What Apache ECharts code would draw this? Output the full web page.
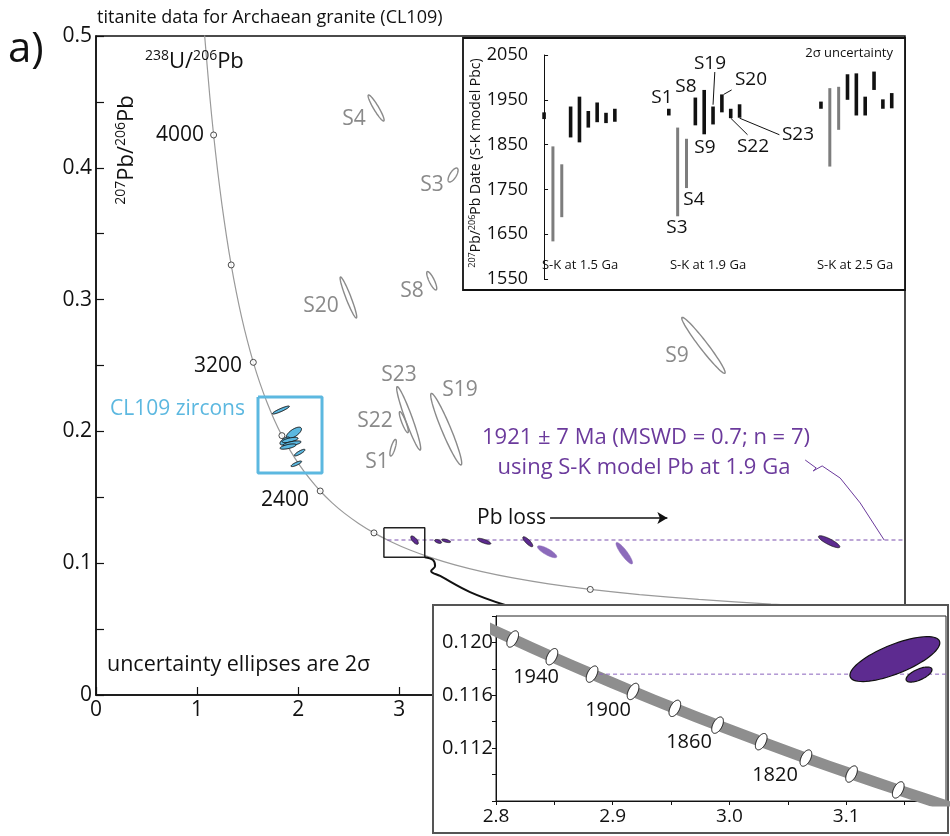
<!DOCTYPE html>
<html><head><meta charset="utf-8">
<script src="https://cdn.jsdelivr.net/npm/echarts@6/dist/echarts.min.js"></script>
<style>html,body{margin:0;padding:0;background:#fff}#c{width:950px;height:836px}</style>
</head><body><div id="c"></div>
<script>
// ---------------- DATA ----------------
// Tera-Wasserburg concordia (age Ma, 238U/206Pb, 207Pb/206Pb)
const concAge = [4250,4100,4000,3900,3800,3700,3600,3500,3400,3300,3200,3100,3000,2900,2800,2700,2600,2500,2400,2300,2200,2100,2000,1900,1800,1700,1600,1500,1400,1300,1200,1100,1000,900,800,700];
const concX = [1.0714,1.1249,1.1631,1.2030,1.2453,1.2898,1.3370,1.3869,1.4398,1.4959,1.5557,1.6194,1.6875,1.7603,1.8384,1.9224,2.0129,2.1108,2.2170,2.3325,2.4586,2.5968,2.7490,2.9174,3.1046,3.3139,3.5497,3.8170,4.1227,4.4756,4.8876,5.3746,5.9595,6.6743,7.5683,8.7184];
const concY = [0.5030,0.4545,0.4249,0.3976,0.3721,0.3484,0.3263,0.3058,0.2867,0.2690,0.2524,0.2370,0.2227,0.2093,0.1968,0.1852,0.1744,0.1643,0.1548,0.1460,0.1378,0.1302,0.1230,0.1163,0.1100,0.1042,0.0987,0.0936,0.0888,0.0843,0.0801,0.0762,0.0725,0.0690,0.0658,0.0628];
const concMarkerAges = [4000,3600,3200,2800,2400,2000,1200];
const concLabels = ['4000','3200','2400'];

// ellipses: [x, y, 2s_x, 2s_y, rho]
const greyNames = ['S4','S3','S8','S20','S23','S22','S19','S1','S9'];
const greyEll = [
  [2.770,0.4454,0.0791,0.00986,-0.93],
  [3.531,0.3945,0.0495,0.00531,0.68],
  [3.320,0.3143,0.0495,0.00698,-0.82],
  [2.496,0.3016,0.0821,0.01555,-0.946],
  [3.092,0.2099,0.1187,0.02405,-0.95],
  [3.044,0.2070,0.0445,0.00797,-0.875],
  [3.463,0.2017,0.1533,0.02716,-0.949],
  [2.938,0.1876,0.0317,0.00630,0.74],
  [6.007,0.2653,0.2146,0.02124,-0.972]
];
const zirconEll = [
  [1.828,0.2162,0.0841,0.00303,0.91],
  [1.957,0.1988,0.0750,0.00440,0.68],
  [1.869,0.1927,0.0495,0.00303,0.60],
  [1.919,0.1935,0.0791,0.00200,0.62],
  [1.939,0.1908,0.0890,0.00200,0.62],
  [1.899,0.1885,0.0791,0.00200,0.62],
  [2.014,0.1839,0.0524,0.00250,0.845],
  [1.981,0.1754,0.0524,0.00210,0.82]
];
const titaniteEll = [
  [3.150,0.1175,0.0376,0.00320,-0.70],
  [3.383,0.1165,0.0346,0.00150,-0.50],
  [3.462,0.1170,0.0445,0.00137,-0.60],
  [3.838,0.1166,0.0663,0.00228,-0.75],
  [4.270,0.1163,0.0495,0.00380,-0.82],
  [7.250,0.1163,0.1058,0.00455,-0.845]
];
const titaniteExcl = [
  [4.461,0.1087,0.0959,0.00455,-0.81],
  [5.224,0.1076,0.0821,0.00819,-0.89]
];
const anchorY = 0.1176;      // 207Pb/206Pb common-Pb anchor
const anchorX0 = 2.8823;     // concordia intercept

// zoomed inset
const zoomAge = [2000,1980,1960,1940,1920,1900,1880,1860,1840,1820,1800,1780,1760,1740];
const zoomX = [2.7490,2.7813,2.8143,2.8479,2.8823,2.9174,2.9532,2.9898,3.0272,3.0655,3.1046,3.1446,3.1855,3.2273];
const zoomY = [0.12299,0.12161,0.12026,0.11892,0.11760,0.11629,0.11501,0.11374,0.11249,0.11125,0.11004,0.10884,0.10765,0.10648];
const zoomLabelAges = [1940,1900,1860,1820];
const zoomTitEll = [
  [3.1417,0.11874,0.0385,0.00170,0.72],
  [3.1624,0.11757,0.0111,0.00057,0.64]
];

// upper inset: 207Pb/206Pb dates (Ma), low/high
const samples = ['S1','S3','S4','S8','S9','S19','S20','S22','S23'];
const excluded = ['S3','S4'];
const groupLabels = ['S-K at 1.5 Ga','S-K at 1.9 Ga','S-K at 2.5 Ga'];
const sk15Lo = [1907,1634,1688,1866,1855,1888,1900,1898,1901];
const sk15Hi = [1922,1846,1806,1935,1957,1925,1944,1921,1930];
const sk19Lo = [1915,1690,1753,1893,1873,1895,1922,1909,1910];
const sk19Hi = [1930,1888,1863,1955,1972,1935,1962,1930,1940];
const sk25Lo = [1930,1801,1883,1950,1915,1915,1972,1930,1931];
const sk25Hi = [1946,1976,1979,2007,2009,1957,2013,1951,1965];

// ---------------- LAYOUT ----------------
const FONT = 'Open Sans';
const groupOffset = [0, 14.1, 31.3];
const PURPLE = '#5d2b90', PURPLE_L = '#8c6bbb', PTEXT = '#6b3a9c', GREY = '#8a8a8a', CYAN = '#5cb8e0';

function ellipse(style) {
  return function (params, api) {
    const cx = api.value(0), cy = api.value(1), rx = api.value(2), ry = api.value(3), rho = api.value(4);
    const s = Math.sqrt(Math.max(0, 1 - rho * rho));
    const pts = [];
    for (let i = 0; i < 72; i++) {
      const t = i / 72 * Math.PI * 2;
      pts.push(api.coord([cx + rx * Math.cos(t), cy + ry * (rho * Math.cos(t) + s * Math.sin(t))]));
    }
    return {type: 'polygon', shape: {points: pts}, style: Object.assign({}, style)};
  };
}
function zip(a, b) { return a.map((v, i) => [v, b[i]]); }

const concData = zip(concX, concY);
const markerData = concMarkerAges.map(a => { const i = concAge.indexOf(a); return [concX[i], concY[i]]; });
const zoomData = zip(zoomX, zoomY);
const zoomMarkers = zoomAge.filter(a => a <= 1960 && a >= 1780).map(a => { const i = zoomAge.indexOf(a); return [zoomX[i], zoomY[i], 0.0050, 0.00062, 0.5]; });

const barData = [];
[[sk15Lo, sk15Hi], [sk19Lo, sk19Hi], [sk25Lo, sk25Hi]].forEach((g, gi) => {
  samples.forEach((s, i) => barData.push([groupOffset[gi] + i, g[0][i], g[1][i], excluded.includes(s) ? 1 : 0]));
});
const slotOf = (g, name) => groupOffset[g] + samples.indexOf(name);

const chart = echarts.init(document.getElementById('c'));

const txt = (x, y, text, o) => Object.assign({type: 'text', x: x, y: y, z: 30,
  style: Object.assign({text: text, fontFamily: FONT, fontSize: 20, fill: '#111', align: 'center', verticalAlign: 'middle'}, o || {})});
const richSup = (size, sup) => ({s: {fontSize: sup, fontFamily: FONT, verticalAlign: 'top', lineHeight: sup, fill: '#111'}});

const mainAxisLabel = {fontFamily: FONT, fontSize: 21, color: '#111'};

const option = {
  animation: false,
  backgroundColor: '#fff',
  grid: [
    {left: 96, top: 36, right: 45, bottom: 141, show: true, borderColor: '#111', borderWidth: 1.5, backgroundColor: 'transparent'},
    {left: 537, top: 55, right: 45, bottom: 557, z: 11},
    {left: 496, top: 616, right: 4, bottom: 35, z: 11, show: true, borderColor: '#222', borderWidth: 1, backgroundColor: '#fff'}
  ],
  xAxis: [
    {gridIndex: 0, type: 'value', min: 0, max: 8, interval: 1,
      axisLine: {lineStyle: {color: '#111', width: 1.5}}, splitLine: {show: false},
      axisTick: {inside: true, length: 8, lineStyle: {color: '#111', width: 1.2}},
      axisLabel: Object.assign({margin: 5}, mainAxisLabel)},
    {gridIndex: 1, type: 'value', min: -0.8, max: 40.8, show: false},
    {gridIndex: 2, type: 'value', min: 2.8, max: 3.1855, interval: 0.05, z: 12,
      axisLine: {onZero: false, lineStyle: {color: '#111', width: 1}}, splitLine: {show: false},
      axisTick: {length: 4, lineStyle: {color: '#111'}},
      axisLabel: {fontFamily: FONT, fontSize: 19, color: '#111', margin: 6,
        formatter: v => Math.abs(v * 10 - Math.round(v * 10)) < 1e-6 ? v.toFixed(1) : ''}}
  ],
  yAxis: [
    {gridIndex: 0, type: 'value', min: 0, max: 0.5, interval: 0.05,
      axisLine: {show: true, lineStyle: {color: '#111', width: 1.5}}, splitLine: {show: false},
      axisTick: {show: true, inside: true, length: 8, lineStyle: {color: '#111', width: 1.2}},
      axisLabel: Object.assign({margin: 4, formatter: v => Math.abs(v * 10 - Math.round(v * 10)) < 1e-6 ? String(+v.toFixed(1)) : ''}, mainAxisLabel)},
    {gridIndex: 1, type: 'value', min: 1550, max: 2050, interval: 100, z: 12,
      axisLine: {show: true, lineStyle: {color: '#111', width: 1}}, splitLine: {show: false},
      axisTick: {show: true, inside: true, length: 4, lineStyle: {color: '#111'}},
      axisLabel: {fontFamily: FONT, fontSize: 18, color: '#111', margin: 9, formatter: v => String(v)}},
    {gridIndex: 2, type: 'value', min: 0.108, max: 0.122, interval: 0.002, z: 12,
      axisLine: {show: true, onZero: false, lineStyle: {color: '#111', width: 1}}, splitLine: {show: false},
      axisTick: {show: true, length: 4, lineStyle: {color: '#111'}},
      axisLabel: {fontFamily: FONT, fontSize: 20, color: '#111', margin: 3,
        formatter: v => { const m = Math.round(v * 1000); return (m % 4 === 0 && m > 108) ? v.toFixed(3) : ''; }}}
  ],
  series: [
    // ---- main plot ----
    {type: 'line', xAxisIndex: 0, yAxisIndex: 0, data: concData, smooth: 0.3, showSymbol: false, symbol: 'none', clip: true,
      lineStyle: {color: '#9a9a9a', width: 1.2}, silent: true, z: 2},
    {type: 'scatter', xAxisIndex: 0, yAxisIndex: 0, data: markerData, symbol: 'circle', symbolSize: 6,
      itemStyle: {color: '#fff', borderColor: '#222', borderWidth: 1}, z: 4},
    {type: 'line', xAxisIndex: 0, yAxisIndex: 0, data: [[anchorX0, anchorY], [8, anchorY]], symbol: 'none', clip: true,
      lineStyle: {color: '#7a4fae', width: 1.2, type: [4, 3]}, z: 3},
    {type: 'custom', xAxisIndex: 0, yAxisIndex: 0, data: greyEll, renderItem: ellipse({fill: 'none', stroke: GREY, lineWidth: 1.4}), z: 3},
    {type: 'custom', xAxisIndex: 0, yAxisIndex: 0, data: zirconEll, renderItem: ellipse({fill: CYAN, stroke: '#111', lineWidth: 1}), z: 3},
    {type: 'custom', xAxisIndex: 0, yAxisIndex: 0, data: titaniteExcl, renderItem: ellipse({fill: PURPLE_L, stroke: PURPLE_L, lineWidth: 0.5}), z: 3},
    {type: 'custom', xAxisIndex: 0, yAxisIndex: 0, data: titaniteEll, renderItem: ellipse({fill: PURPLE, stroke: '#111', lineWidth: 0.7}), z: 4},
    // cyan zircon box
    {type: 'line', xAxisIndex: 0, yAxisIndex: 0, symbol: 'none', data: [[1.602,0.2261],[2.235,0.2261],[2.235,0.1684],[1.602,0.1684],[1.602,0.2261]],
      lineStyle: {color: CYAN, width: 3}, z: 3},
    // zoom box
    {type: 'line', xAxisIndex: 0, yAxisIndex: 0, symbol: 'none', data: [[2.847,0.1269],[3.251,0.1269],[3.251,0.1045],[2.847,0.1045],[2.847,0.1269]],
      lineStyle: {color: '#222', width: 1.5}, z: 4},
    // zoom connector
    {type: 'line', xAxisIndex: 0, yAxisIndex: 0, symbol: 'none', smooth: 0.4,
      data: [[3.251,0.1045],[3.333,0.1024],[3.353,0.0979],[3.314,0.0941],[3.403,0.0903],[3.699,0.0781],[4.045,0.0683]],
      lineStyle: {color: '#111', width: 2}, z: 4},
    // purple leader
    {type: 'line', xAxisIndex: 0, yAxisIndex: 0, symbol: 'none',
      data: [[7.013,0.1783],[7.122,0.1722],[7.092,0.1700],[7.181,0.1738],[7.359,0.1646],[7.557,0.1457],[7.794,0.1176]],
      lineStyle: {color: '#6b3a9c', width: 1}, z: 4},
    // Pb loss arrow
    {type: 'line', xAxisIndex: 0, yAxisIndex: 0, data: [], symbol: 'none',
      markLine: {silent: true, symbol: ['none', 'arrow'], symbolSize: [9, 10], label: {show: false},
        lineStyle: {color: '#111', width: 1.5, type: 'solid'},
        data: [[{coord: [4.49, 0.1343]}, {coord: [5.65, 0.1343]}]]}},
    // ---- upper inset ----
    {type: 'custom', xAxisIndex: 1, yAxisIndex: 1, data: barData, z: 13,
      renderItem: (params, api) => {
        const top = api.coord([api.value(0), api.value(2)]), bot = api.coord([api.value(0), api.value(1)]);
        const ex = api.value(3) === 1, w = ex ? 3 : 3.6;
        return {type: 'rect', shape: {x: top[0] - w / 2, y: top[1], width: w, height: bot[1] - top[1]},
          style: {fill: ex ? '#7d7d7d' : '#111'}};
      }},
    {type: 'line', xAxisIndex: 1, yAxisIndex: 1, symbol: 'none', z: 13, data: [[slotOf(1,'S19') + 0.2, 2012], [slotOf(1,'S19'), 1939]], lineStyle: {color: '#111', width: 1}},
    {type: 'line', xAxisIndex: 1, yAxisIndex: 1, symbol: 'none', z: 13, data: [[slotOf(1,'S20') + 1.1, 1972], [slotOf(1,'S20') + 0.2, 1962]], lineStyle: {color: '#111', width: 1}},
    {type: 'line', xAxisIndex: 1, yAxisIndex: 1, symbol: 'none', z: 13, data: [[slotOf(1,'S22'), 1909], [slotOf(1,'S22') + 1.9, 1872]], lineStyle: {color: '#111', width: 1}},
    {type: 'line', xAxisIndex: 1, yAxisIndex: 1, symbol: 'none', z: 13, data: [[slotOf(1,'S23'), 1909], [slotOf(1,'S23') + 4.5, 1872]], lineStyle: {color: '#111', width: 1}},
    // ---- lower inset ----
    {type: 'line', xAxisIndex: 2, yAxisIndex: 2, data: zoomData, smooth: 0.3, symbol: 'none', clip: true, z: 13,
      lineStyle: {color: '#8e8e8e', width: 11}},
    {type: 'line', xAxisIndex: 2, yAxisIndex: 2, data: [[anchorX0, anchorY], [3.1855, anchorY]], symbol: 'none', clip: true, z: 13,
      lineStyle: {color: '#8a62bd', width: 1, type: [4, 3]}},
    {type: 'custom', xAxisIndex: 2, yAxisIndex: 2, data: zoomMarkers, z: 14, renderItem: ellipse({fill: '#fff', stroke: '#111', lineWidth: 1})},
    {type: 'custom', xAxisIndex: 2, yAxisIndex: 2, data: zoomTitEll, z: 14, renderItem: ellipse({fill: PURPLE, stroke: '#111', lineWidth: 1.2})}
  ],
  graphic: {elements: [
    // inset frames
    {type: 'rect', z: 10, shape: {x: 463, y: 38, width: 442, height: 252}, style: {fill: '#fff', stroke: '#111', lineWidth: 1.8}},
    {type: 'rect', z: 10, shape: {x: 433, y: 605, width: 515, height: 228}, style: {fill: '#fff', stroke: '#555', lineWidth: 2}},
    // main texts
    txt(8, 50, 'a)', {fontSize: 42, align: 'left'}),
    txt(97, 18, 'titanite data for Archaean granite (CL109)', {fontSize: 18, align: 'left'}),
    txt(145, 62, '{s|238}U/{s|206}Pb', {fontSize: 22, align: 'left', lineHeight: 25, rich: richSup(22, 14)}),
    Object.assign(txt(127, 150, '{s|207}Pb/{s|206}Pb', {fontSize: 22, lineHeight: 25, rich: richSup(22, 14)}), {rotation: Math.PI / 2}),
    txt(180, 135, concLabels[0], {fontSize: 21}),
    txt(218, 366, concLabels[1], {fontSize: 21}),
    txt(285, 500, concLabels[2], {fontSize: 21}),
    txt(110, 409, 'CL109 zircons', {align: 'left', fill: CYAN, fontSize: 21}),
    txt(107, 665, 'uncertainty ellipses are 2σ', {align: 'left', fontSize: 21.5}),
    txt(354, 119, greyNames[0], {fill: GREY, fontSize: 21}),
    txt(432, 185, greyNames[1], {fill: GREY, fontSize: 21}),
    txt(412, 291, greyNames[2], {fill: GREY, fontSize: 21}),
    txt(321, 306, greyNames[3], {fill: GREY, fontSize: 21}),
    txt(399, 375, greyNames[4], {fill: GREY, fontSize: 21}),
    txt(375, 421, greyNames[5], {fill: GREY, fontSize: 21}),
    txt(460, 390, greyNames[6], {fill: GREY, fontSize: 21}),
    txt(377, 462, greyNames[7], {fill: GREY, fontSize: 21}),
    txt(677, 356, greyNames[8], {fill: GREY, fontSize: 21}),
    txt(646, 438, '1921 ± 7 Ma (MSWD = 0.7; n = 7)', {fill: PTEXT, fontSize: 22}),
    txt(644, 468, 'using S-K model Pb at 1.9 Ga', {fill: PTEXT, fontSize: 22}),
    txt(546, 518, 'Pb loss', {align: 'right', fontSize: 21}),
    // upper inset texts
    Object.assign(txt(476, 163, '{s|207}Pb/{s|206}Pb Date (S-K model Pbc)', {fontSize: 14, lineHeight: 16, rich: richSup(14, 9)}), {rotation: Math.PI / 2, z: 30}),
    txt(893, 53, '2σ uncertainty', {fontSize: 13, align: 'right'}),
    txt(580, 265, groupLabels[0], {fontSize: 13}),
    txt(708, 265, groupLabels[1], {fontSize: 13}),
    txt(855, 265, groupLabels[2], {fontSize: 13}),
    txt(662, 98, 'S1', {fontSize: 19}),
    txt(686, 87, 'S8', {fontSize: 19}),
    txt(710, 64, 'S19', {fontSize: 19}),
    txt(751, 80, 'S20', {fontSize: 19}),
    txt(705, 148, 'S9', {fontSize: 19}),
    txt(753, 147, 'S22', {fontSize: 19}),
    txt(798, 135, 'S23', {fontSize: 19}),
    txt(694, 200, 'S4', {fontSize: 19}),
    txt(677, 228, 'S3', {fontSize: 19}),
    // lower inset age labels
    txt(536, 677, String(zoomLabelAges[0]), {fontSize: 20}),
    txt(608, 710, String(zoomLabelAges[1]), {fontSize: 20}),
    txt(689, 742, String(zoomLabelAges[2]), {fontSize: 20}),
    txt(775, 775, String(zoomLabelAges[3]), {fontSize: 20})
  ]}
};
chart.setOption(option);
</script>
</body></html>
